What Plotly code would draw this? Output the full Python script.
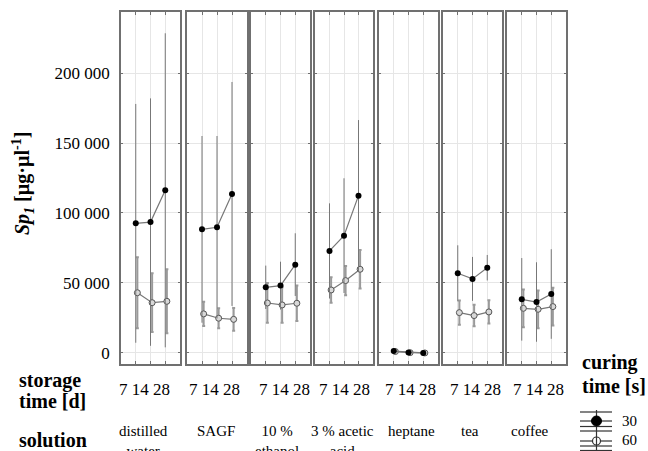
import plotly.graph_objects as go

# ---------------- data ----------------
solutions = ["distilled<br>water", "SAGF", "10 %<br>ethanol", "3 % acetic<br>acid",
             "heptane", "tea", "coffee"]
storage_time = ["7", "14", "28"]
curing_time = ["30", "60"]

# mean Sp1 values, 3 storage times per solution (30 s curing)
mean_30 = [92600, 93500, 116200,
           88300, 89800, 113600,
           46900, 48100, 63100,
           72900, 83800, 112400,
           1300, 400, 0,
           56900, 52900, 60900,
           38300, 36400, 42100]
err_30 = [85300, 88400, 112200,
          66700, 65200, 80000,
          15500, 17100, 22400,
          34000, 41000, 54000,
          600, 400, 400,
          20000, 15700, 9100,
          29500, 28400, 32000]
# 60 s curing
mean_60 = [43000, 35900, 36900,
           27900, 24800, 24000,
           35700, 34300, 35500,
           45000, 51700, 59800,
           1000, 200, 0,
           28800, 26700, 29300,
           31900, 31200, 33100]
err_60 = [25400, 21000, 22900,
          8700, 7100, 8200,
          14200, 12700, 12600,
          9100, 10400, 13700,
          400, 300, 300,
          8600, 7700, 8300,
          13500, 13500, 13500]

y_tickvals = [0, 50000, 100000, 150000, 200000]
y_ticktext = ["0", "50 000", "100 000", "150 000", "200 000"]

# ---------------- layout geometry (pixels) ----------------
W, H = 648, 451
panels_px = [(121, 180), (187, 247), (251, 310), (315, 373),
             (379, 438), (443, 502), (507, 566)]
top_px, bottom_px = 12, 364
tick_centers = [144, 214.5, 284.5, 344.5, 410.5, 475.5, 538]
label_centers = [143, 215.5, 277, 342, 411, 470, 530]

FONT = "Liberation Serif, Times New Roman, serif"
AX = "#707070"
GRID = "#e6e6e6"


def px(x):
    return x / W


def py(y):
    return 1 - y / H


fig = go.Figure()
n_t = len(storage_time)
xpos = [k + 1 for k in range(n_t)]
offset = 0.11

for i, sol in enumerate(solutions):
    sfx = "" if i == 0 else str(i + 1)
    sl = slice(n_t * i, n_t * i + n_t)
    # 60 s series (open circles)
    fig.add_trace(go.Scatter(
        x=[v + offset for v in xpos], y=mean_60[sl],
        mode="lines+markers",
        line=dict(color="#777777", width=1.2),
        marker=dict(symbol="circle", size=6, color="#d8d8d8",
                    line=dict(color="#555555", width=1)),
        error_y=dict(type="data", array=err_60[sl], visible=True,
                     color="#9a9a9a", thickness=2, width=1.5),
        xaxis="x" + sfx, yaxis="y" + sfx, showlegend=False,
        name=curing_time[1]))
    # 30 s series (filled circles)
    fig.add_trace(go.Scatter(
        x=xpos, y=mean_30[sl],
        mode="lines+markers",
        line=dict(color="#777777", width=1.2),
        marker=dict(symbol="circle", size=6, color="black"),
        error_y=dict(type="data", array=err_30[sl], visible=True,
                     color="#777777", thickness=1, width=0),
        xaxis="x" + sfx, yaxis="y" + sfx, showlegend=False,
        name=curing_time[0]))

    x0, x1 = panels_px[i]
    fig.layout["xaxis" + sfx] = dict(
        domain=[px(x0), px(x1)], range=[0, n_t + 1], anchor="y" + sfx,
        tickvals=xpos, showticklabels=False, ticks="inside", ticklen=3,
        tickcolor=AX, showgrid=True, gridcolor=GRID, gridwidth=1,
        zeroline=False, showline=True, linecolor=AX, linewidth=1.5,
        mirror="allticks", fixedrange=True)
    fig.layout["yaxis" + sfx] = dict(
        domain=[py(bottom_px), py(top_px)], range=[-7900, 243600],
        anchor="x" + sfx, tickvals=y_tickvals, ticktext=y_ticktext,
        showticklabels=(i == 0), ticks="inside", ticklen=2, tickcolor=AX,
        showgrid=True, gridcolor=GRID, gridwidth=1, zeroline=False,
        showline=True, linecolor=AX, linewidth=1.5, mirror="allticks",
        tickfont=dict(family=FONT, size=17, color="black"),
        ticklabelstandoff=6, fixedrange=True)

annotations = []
# y-axis title
annotations.append(dict(
    text="<b><i>Sp</i><sub><i>1</i></sub> [µg·µl<sup>-1</sup>]</b>",
    x=px(23), y=py(184), xref="paper", yref="paper", textangle=-90,
    showarrow=False, xanchor="center", yanchor="middle",
    font=dict(family=FONT, size=20, color="black")))

# storage time labels and solution names under each panel
for i in range(len(solutions)):
    annotations.append(dict(
        text=" ".join(storage_time), x=px(tick_centers[i]), y=py(389),
        xref="paper", yref="paper", showarrow=False,
        xanchor="center", yanchor="middle",
        font=dict(family=FONT, size=17, color="black")))
    annotations.append(dict(
        text=solutions[i], x=px(label_centers[i]), y=py(421),
        xref="paper", yref="paper", showarrow=False,
        xanchor="center", yanchor="top", align="center",
        font=dict(family=FONT, size=15, color="black")))

# bold row labels
for txt, x, y in [("storage", 17, 380), ("time [d]", 17, 401),
                  ("solution", 17, 440),
                  ("curing", 580, 362), ("time [s]", 580, 386)]:
    annotations.append(dict(
        text="<b>" + txt + "</b>", x=px(x), y=py(y), xref="paper",
        yref="paper", showarrow=False, xanchor="left", yanchor="middle",
        font=dict(family=FONT, size=20, color="black")))

# legend texts
for txt, y in [(curing_time[0], 420.5), (curing_time[1], 440)]:
    annotations.append(dict(
        text=txt, x=px(620), y=py(y), xref="paper", yref="paper",
        showarrow=False, xanchor="left", yanchor="middle",
        font=dict(family=FONT, size=15, color="black")))

shapes = []
# legend icon: horizontal lines, vertical line, markers
for y in [412, 421, 426.5, 431, 441, 446, 450.5]:
    shapes.append(dict(type="line", xref="paper", yref="paper",
                       x0=px(580), x1=px(612), y0=py(y), y1=py(y),
                       line=dict(color="#333333", width=1.2)))
shapes.append(dict(type="line", xref="paper", yref="paper",
                   x0=px(596.5), x1=px(596.5), y0=py(410), y1=py(451),
                   line=dict(color="#333333", width=1.2)))
shapes.append(dict(type="circle", xref="paper", yref="paper",
                   x0=px(591.5), x1=px(601.5), y0=py(426), y1=py(416),
                   fillcolor="black", line=dict(color="black", width=1)))
shapes.append(dict(type="circle", xref="paper", yref="paper",
                   x0=px(592.5), x1=px(600.5), y0=py(445), y1=py(437),
                   fillcolor="white", line=dict(color="#333333", width=1.2)))
shapes.append(dict(type="line", xref="paper", yref="paper",
                   x0=px(596.5), x1=px(596.5), y0=py(445), y1=py(437),
                   line=dict(color="#333333", width=1.2)))

fig.update_layout(
    width=W, height=H, margin=dict(l=0, r=0, t=0, b=0),
    paper_bgcolor="white", plot_bgcolor="white",
    annotations=annotations, shapes=shapes, showlegend=False,
    font=dict(family=FONT, color="black"))

fig.write_html("out.html", config={"displayModeBar": False})
